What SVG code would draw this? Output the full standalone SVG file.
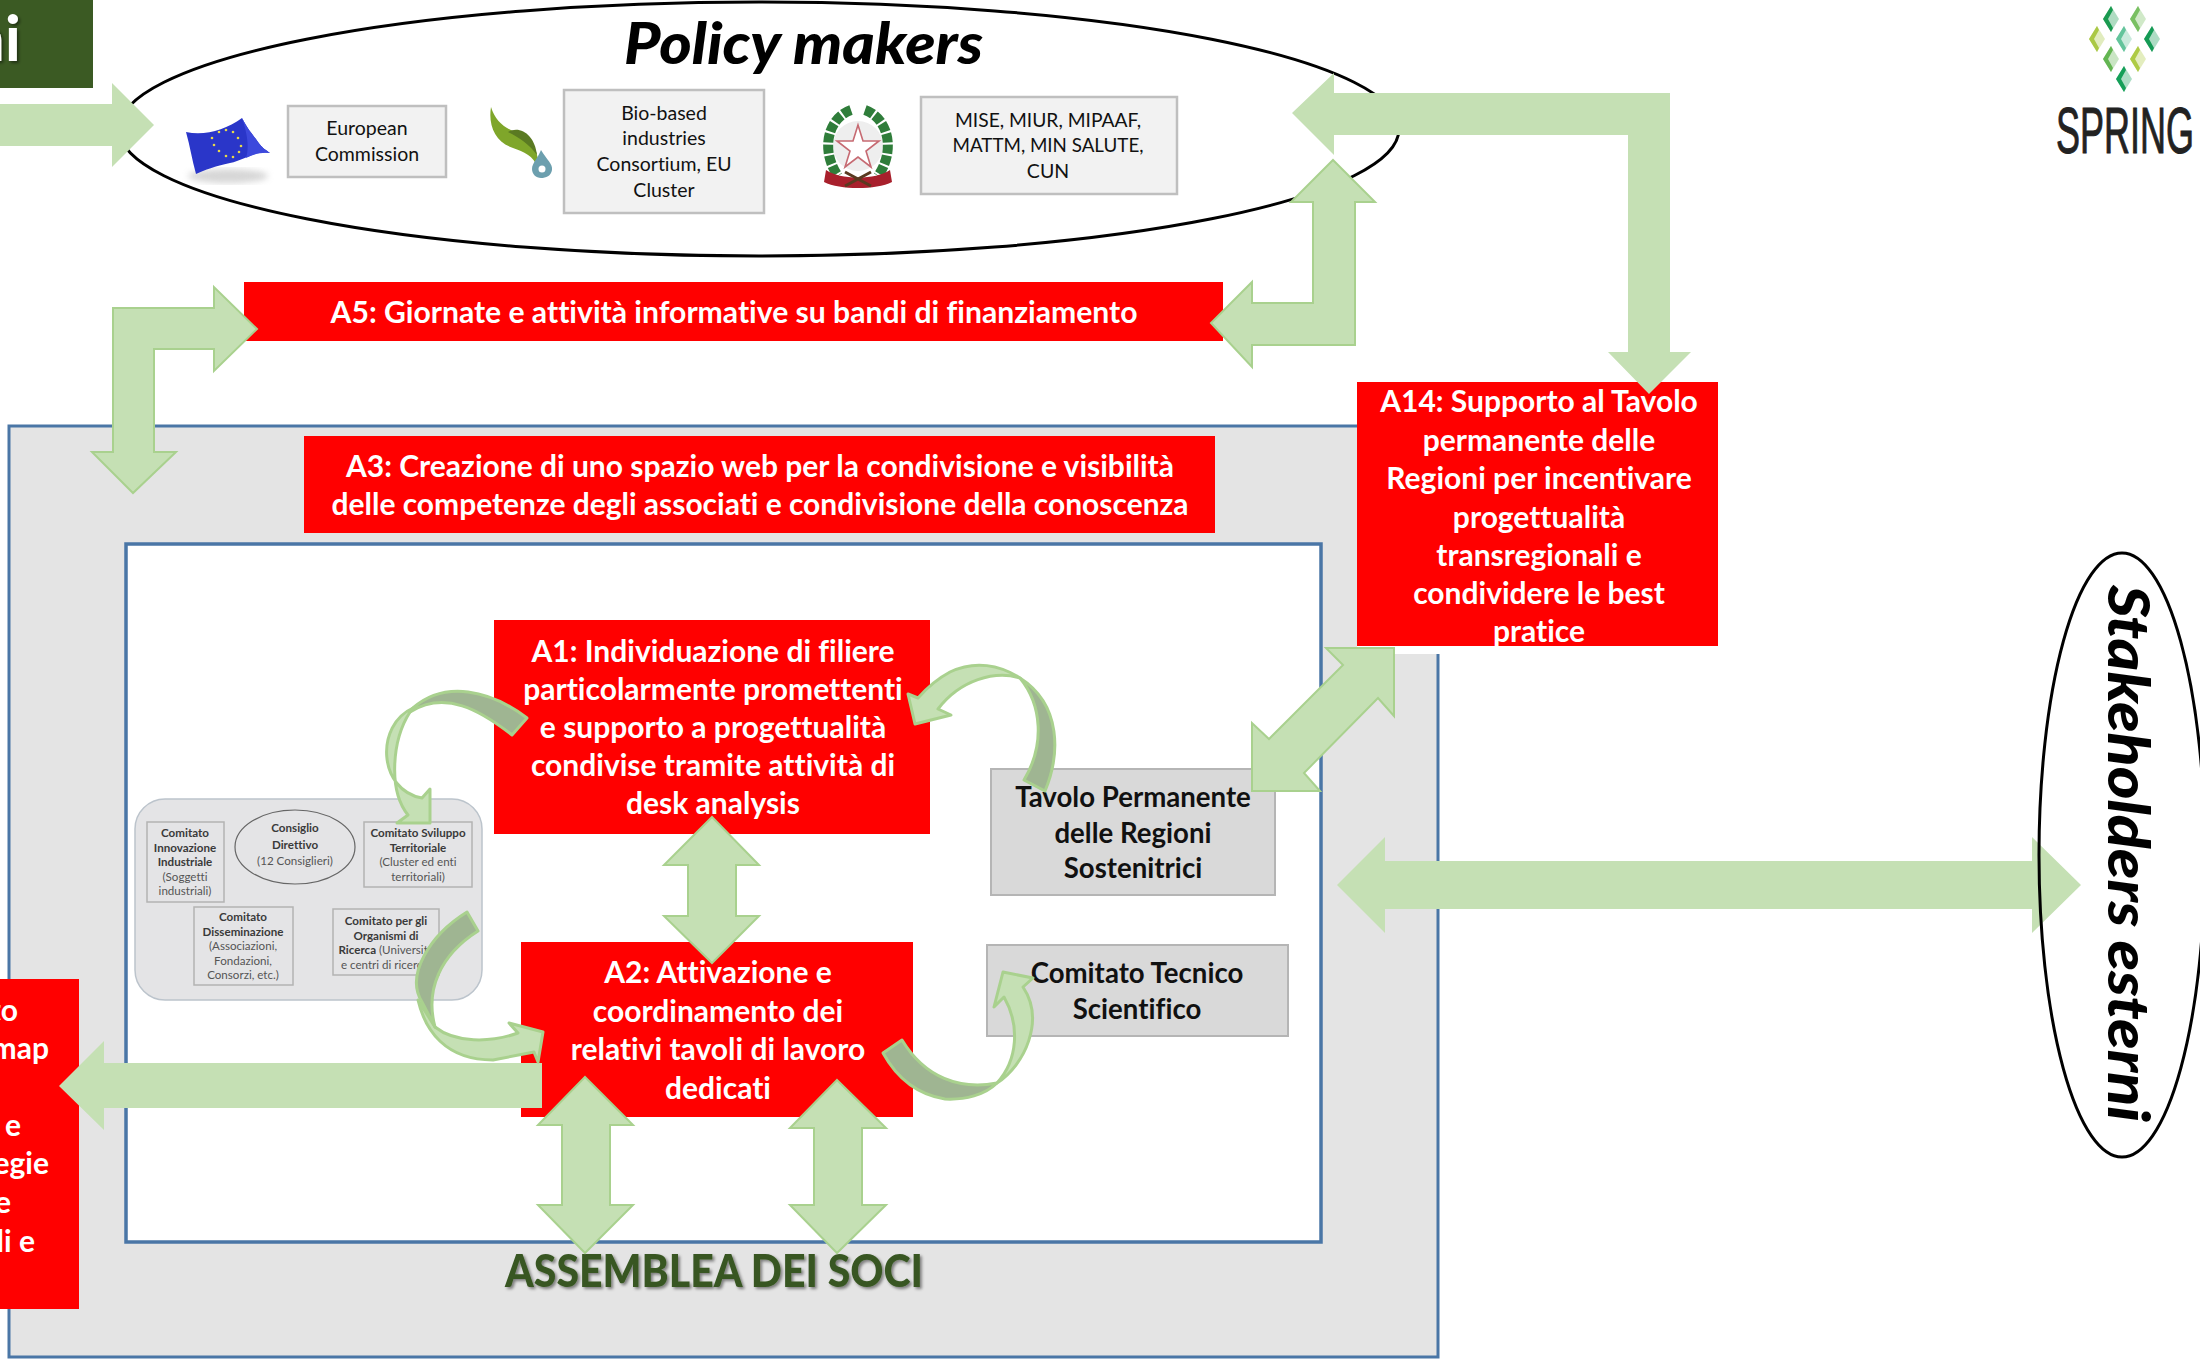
<svg xmlns="http://www.w3.org/2000/svg" xmlns:xlink="http://www.w3.org/1999/xlink" width="2200" height="1359" viewBox="0 0 2200 1359">
<style>
text{font-family:Lato,"Liberation Sans",sans-serif;font-variant-ligatures:none}
.red{fill:#ff0000}
.w{fill:#fff;font-weight:700;font-size:30px;text-anchor:middle}
.k{fill:#111;font-weight:700;font-size:27.6px;text-anchor:middle}
.s{fill:#111;font-size:19.5px;text-anchor:middle}
.box{fill:#f2f2f2;stroke:#bfbfbf;stroke-width:2.5}
.gbox{fill:#d9d9d9;stroke:#b5b5b5;stroke-width:2}
.ell{fill:#fff;stroke:#000;stroke-width:3}
.a{fill:#c5e0b4}
.as{fill:#c5e0b4;stroke:#a9d18e;stroke-width:2;stroke-linejoin:miter}
.ad{fill:#9fb592;stroke:#a9d18e;stroke-width:3;stroke-linejoin:round}
.al{fill:#c5e0b4;stroke:#a9d18e;stroke-width:3;stroke-linejoin:round}
.ob{fill:none;stroke:#b3b3b3;stroke-width:1.5}
.ot{fill:#3a3a3a;font-size:11.6px;text-anchor:middle;font-weight:700}
.on{fill:#555;font-size:11.6px;text-anchor:middle}
</style>
<defs>
<filter id="sh" x="-5%" y="-20%" width="110%" height="150%"><feDropShadow dx="2" dy="2" stdDeviation="1.5" flood-color="#000" flood-opacity=".45"/></filter>
<filter id="bl" x="-10%" y="-10%" width="120%" height="120%"><feGaussianBlur stdDeviation="3"/></filter>
<g id="dia"><polygon points="0,-13 8,0 0,13 -8,0" fill="currentColor" opacity=".35"/><polygon points="0,-13 2,-9 -3,0 2,9 0,13 -8,0" fill="currentColor"/></g>
</defs>
<rect width="2200" height="1359" fill="#fff"/>

<g id="soci-outer"><rect x="9" y="426" width="1429" height="931" fill="#e4e4e4" stroke="#4a76a6" stroke-width="3"/><rect x="1357" y="382" width="362" height="272" fill="#fff"/></g>
<g id="soci-inner"><rect x="126" y="544" width="1195" height="698" fill="#fff" stroke="#4a76a6" stroke-width="3.5"/></g>

<g id="top-left-box"><rect x="0" y="0" width="93" height="88" fill="#3b5a23"/><text x="21" y="61" text-anchor="end" font-size="64" font-weight="700" fill="#fff" filter="url(#sh)">ni</text></g>

<g id="policy-makers">
<ellipse class="ell" cx="759" cy="129" rx="640" ry="127"/>
<text x="624" y="64" font-size="58" font-weight="900" font-style="italic" fill="#000" textLength="359" lengthAdjust="spacingAndGlyphs">Policy makers</text>
</g>
<g id="flag">
<ellipse cx="228" cy="176" rx="40" ry="7" fill="#bbb" opacity=".6" filter="url(#bl)"/>
<path d="M186 132C205 136 225 130 242 118C248 130 254 136 258 142C262 148 266 150 270 153C255 150 245 160 230 163C215 166 205 170 196 174C192 160 190 146 186 132Z" fill="#2a36c9"/>
<path d="M242 118C248 130 254 136 258 142C262 148 266 150 270 153C262 152 254 154 246 158C250 145 246 130 242 118Z" fill="#3d49dc"/>
<g fill="#e6d84a"><circle cx="226" cy="130" r="1.3"/><circle cx="233" cy="132" r="1.3"/><circle cx="238" cy="138" r="1.3"/><circle cx="241" cy="146" r="1.3"/><circle cx="239" cy="152" r="1.3"/><circle cx="233" cy="157" r="1.3"/><circle cx="226" cy="156" r="1.3"/><circle cx="219" cy="151" r="1.3"/><circle cx="214" cy="145" r="1.3"/><circle cx="212" cy="138" r="1.3"/><circle cx="219" cy="132" r="1.3"/></g>
</g>
<g id="european-commission"><rect class="box" x="288" y="106" width="158" height="71"/><text class="s" x="367" y="135">European</text><text class="s" x="367" y="161">Commission</text></g>
<g id="leaf">
<path d="M491 107C488 125 495 142 513 148C524 152 533 155 538 168C540 150 530 138 515 132C503 127 495 120 491 107Z" fill="#7fa62a"/>
<path d="M508 132C520 125 535 135 537 155C530 145 520 138 508 132Z" fill="#5a7a22"/>
<path d="M541 150C547 160 553 164 552 170C551 176 546 178 541 178C536 178 532 174 532 169C532 163 538 158 541 150Z" fill="#6c9fae"/>
<circle cx="542" cy="169" r="3.5" fill="#fff"/>
</g>
<g id="bio-based"><rect class="box" x="564" y="90" width="200" height="123"/><text class="s" x="664" y="120">Bio-based</text><text class="s" x="664" y="145">industries</text><text class="s" x="664" y="171">Consortium, EU</text><text class="s" x="664" y="197">Cluster</text></g>
<g id="emblem">
<circle cx="858" cy="146" r="25" fill="#eee"/>
<path d="M851 110C828 118 820 150 838 176" fill="none" stroke="#2f7d3a" stroke-width="10" stroke-dasharray="9 2"/>
<path d="M865 110C888 118 896 150 878 176" fill="none" stroke="#2f7d3a" stroke-width="10" stroke-dasharray="9 2"/>
<polygon points="858,125 863,141 879,141 866,151 871,167 858,157 845,167 850,151 837,141 853,141" fill="#fff" stroke="#c66a72" stroke-width="1.6"/>
<path d="M826 170C840 180 876 180 890 170L892 182C876 190 840 190 824 182Z" fill="#a8202c"/>
<path d="M845 172L871 186M871 172L845 186" stroke="#5a3a20" stroke-width="3"/>
</g>
<g id="mise"><rect class="box" x="921" y="97" width="256" height="97"/><text class="s" x="1048" y="127" textLength="186" lengthAdjust="spacingAndGlyphs">MISE, MIUR, MIPAAF,</text><text class="s" x="1048" y="152" textLength="191" lengthAdjust="spacingAndGlyphs">MATTM, MIN SALUTE,</text><text class="s" x="1048" y="178">CUN</text></g>

<g id="logo-spring" color="#19934f">
<use href="#dia" x="2111" y="19" color="#1a9a50"/><use href="#dia" x="2138" y="19" color="#79c062"/>
<use href="#dia" x="2097" y="39" color="#aac845"/><use href="#dia" x="2124" y="39" color="#63c49b"/><use href="#dia" x="2152" y="39" color="#159a55"/>
<use href="#dia" x="2111" y="59" color="#63b552"/><use href="#dia" x="2138" y="59" color="#aecb45"/>
<use href="#dia" x="2124" y="79" color="#159f58"/>
<text x="2056" y="153" font-size="64" style="font-family:'Liberation Sans',sans-serif" fill="#222" stroke="#222" stroke-width="1" textLength="138" lengthAdjust="spacingAndGlyphs">SPRING</text>
</g>

<g id="a5"><rect class="red" x="244" y="282" width="979" height="59"/><text class="w" x="734" y="323" textLength="807" lengthAdjust="spacingAndGlyphs">A5: Giornate e attività informative su bandi di finanziamento</text></g>
<g id="a3"><rect class="red" x="304" y="436" width="911" height="97"/><text class="w" x="760" y="477" textLength="828" lengthAdjust="spacingAndGlyphs">A3: Creazione di uno spazio web per la condivisione e visibilità</text><text class="w" x="760" y="515" textLength="857" lengthAdjust="spacingAndGlyphs">delle competenze degli associati e condivisione della conoscenza</text></g>
<g id="a14-box"><rect class="red" x="1357" y="382" width="361" height="264"/></g>
<g id="a1"><rect class="red" x="494" y="620" width="436" height="214"/>
<text class="w" x="713" y="662">A1: Individuazione di filiere</text><text class="w" x="713" y="700">particolarmente promettenti</text><text class="w" x="713" y="738">e supporto a progettualità</text><text class="w" x="713" y="776">condivise tramite attività di</text><text class="w" x="713" y="814">desk analysis</text></g>
<g id="a2"><rect class="red" x="521" y="942" width="392" height="175"/>
<text class="w" x="718" y="983">A2: Attivazione e</text><text class="w" x="718" y="1022">coordinamento dei</text><text class="w" x="718" y="1060">relativi tavoli di lavoro</text><text class="w" x="718" y="1099">dedicati</text></g>
<g id="left-box"><rect class="red" x="0" y="979" width="79" height="330"/>
<text class="w" style="text-anchor:end" x="18" y="1021">to</text><text class="w" style="text-anchor:end" x="49" y="1059">map</text><text class="w" style="text-anchor:end" x="21" y="1136">e</text><text class="w" style="text-anchor:end" x="49" y="1174">egie</text><text class="w" style="text-anchor:end" x="11" y="1213">e</text><text class="w" style="text-anchor:end" x="35" y="1252">li e</text></g>
<g id="tavolo"><rect class="gbox" x="991" y="769" width="284" height="126"/><text class="k" x="1133" y="807">Tavolo Permanente</text><text class="k" x="1133" y="843">delle Regioni</text><text class="k" x="1133" y="878">Sostenitrici</text></g>
<g id="comitato-tecnico"><rect class="gbox" x="987" y="945" width="301" height="91"/><text class="k" x="1137" y="983">Comitato Tecnico</text><text class="k" x="1137" y="1019">Scientifico</text></g>

<g id="organigramma">
<rect x="135" y="799" width="347" height="201" rx="30" fill="#e4e4e6" stroke="#bcc4cc" stroke-width="1.5"/>
<rect class="ob" x="147" y="822" width="77" height="80"/>
<text class="ot" x="185" y="837">Comitato</text><text class="ot" x="185" y="852">Innovazione</text><text class="ot" x="185" y="866">Industriale</text><text class="on" x="185" y="881">(Soggetti</text><text class="on" x="185" y="895">industriali)</text>
<ellipse cx="295" cy="847" rx="60" ry="37" fill="none" stroke="#666" stroke-width="1.2"/>
<text class="ot" x="295" y="832">Consiglio</text><text class="ot" x="295" y="849">Direttivo</text><text class="on" x="295" y="865">(12  Consiglieri)</text>
<rect class="ob" x="364" y="822" width="108" height="65"/>
<text class="ot" x="418" y="837">Comitato Sviluppo</text><text class="ot" x="418" y="852">Territoriale</text><text class="on" x="418" y="866">(Cluster ed enti</text><text class="on" x="418" y="881">territoriali)</text>
<rect class="ob" x="194" y="907" width="99" height="78"/>
<text class="ot" x="243" y="921">Comitato</text><text class="ot" x="243" y="936">Disseminazione</text><text class="on" x="243" y="950">(Associazioni,</text><text class="on" x="243" y="965">Fondazioni,</text><text class="on" x="243" y="979">Consorzi, etc.)</text>
<rect class="ob" x="333" y="909" width="106" height="66"/>
<text class="ot" x="386" y="925">Comitato per gli</text><text class="ot" x="386" y="940">Organismi di</text><text class="on" x="386" y="954"><tspan class="ot">Ricerca</tspan> (Università</text><text class="on" x="386" y="969">e centri di ricerca)</text>
</g>

<text id="assemblea" x="505" y="1287" font-size="46" font-weight="900" fill="#385723" filter="url(#sh)" textLength="418" lengthAdjust="spacingAndGlyphs">ASSEMBLEA DEI SOCI</text>

<g id="connectors">
<polygon class="a" points="0,104 112,104 112,83 154,125 112,167 112,146 0,146"/>
<polygon class="a" points="1292,113 1334,73 1334,93 1670,93 1670,352 1691,352 1649,394 1608,352 1628,352 1628,135 1334,135 1334,155"/>
<polygon class="as" points="1333,160 1375,202 1355,202 1355,345 1252,345 1252,367 1211,323 1252,282 1252,303 1313,303 1313,202 1291,202"/>
<polygon class="as" points="257,329 214,287 214,308 113,308 113,452 92,452 133,493 176,452 154,452 154,349 214,349 214,371"/>
<polygon class="as" points="1394,648 1326,648 1343,665 1269,739 1252,723 1252,791 1320,791 1304,773 1378,698 1394,716"/>
<polygon class="a" points="1337,885 1385,837 1385,861 2032,861 2032,837 2081,885 2032,933 2032,909 1385,909 1385,933"/>
<polygon class="as" points="712,817 759,865 736,865 736,916 759,916 712,963 664,916 688,916 688,865 664,865"/>
<polygon class="a" points="59,1086 104,1041 104,1063 542,1063 542,1108 104,1108 104,1130"/>
<polygon class="as" points="585,1077 633,1125 610,1125 610,1205 633,1205 585,1253 538,1205 562,1205 562,1125 538,1125"/>
<polygon class="as" points="837,1080 886,1128 862,1128 862,1205 886,1205 837,1253 790,1205 814,1205 814,1128 790,1128"/>

<path class="al" d="M413 708C375 725 378 790 422 798L430 789V823H397L408 815C388 790 392 740 410 712Z"/>
<path class="ad" d="M527 718C490 690 445 680 413 708L410 712C445 690 480 710 512 735Z"/>

<path class="al" d="M418 1000C425 1030 445 1060 493 1060L534 1052L538 1062L543 1032L509 1023L518 1033C490 1043 455 1043 435 1027Z"/>
<path class="ad" d="M467 912C430 935 405 975 422 1002L435 1027C425 990 440 955 478 931Z"/>

<path class="al" d="M1020 678C1000 665 975 660 950 672C935 680 925 690 918 698L908 694L915 724L951 715L938 709C960 680 995 670 1020 678Z"/>
<path class="ad" d="M1024 780L1045 791C1060 755 1062 705 1020 678C1042 705 1045 745 1024 780Z"/>

<path class="al" d="M997 1083C1025 1065 1045 1020 1023 987L1033 978L1003 972L994 1007L1004 997C1020 1025 1018 1060 997 1083Z"/>
<path class="ad" d="M883 1053L902 1040C925 1078 960 1090 997 1083C985 1095 965 1100 945 1099C920 1095 898 1080 883 1053Z"/>
</g>

<g id="a14-label">
<text class="w" x="1539" y="412">A14: Supporto al Tavolo</text><text class="w" x="1539" y="451">permanente delle</text><text class="w" x="1539" y="489">Regioni per incentivare</text><text class="w" x="1539" y="528">progettualità</text><text class="w" x="1539" y="566">transregionali e</text><text class="w" x="1539" y="604">condividere le best</text><text class="w" x="1539" y="642">pratice</text>
</g>

<g id="stakeholders">
<ellipse cx="2122" cy="855" rx="83" ry="302" fill="none" stroke="#000" stroke-width="3"/>
<text transform="translate(2108 585) rotate(90)" font-size="58" font-weight="900" font-style="italic" fill="#000" textLength="537" lengthAdjust="spacingAndGlyphs">Stakeholders esterni</text>
</g>
</svg>
